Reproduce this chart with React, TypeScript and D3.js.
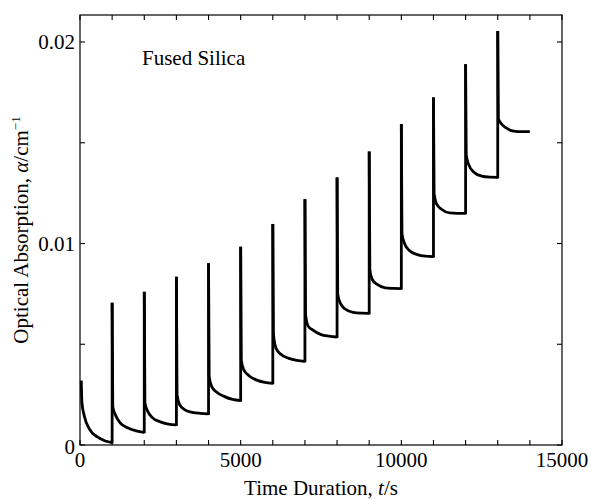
import React, { useEffect, useRef } from 'react';
import * as d3 from 'd3';

// onset of each heating pulse (s) and the value reached at its top
const onsetTimes = [40, 1000, 2000, 3000, 4000, 5000, 6000, 7000, 8000, 9000, 10000, 11000, 12000, 13000];
const endTime = 14000;
const peakAlpha = [0.0032, 0.00706, 0.0076, 0.00835, 0.00902, 0.00984, 0.01097, 0.0122, 0.01328, 0.01456, 0.01593, 0.01725, 0.0189, 0.02055];

// decay, at these offsets after each onset
const decayOffsets = [20, 100, 250, 500, 750];
const decayAlpha = [
  [0.0021, 0.0014, 0.0008, 0.0004, 0.0002],
  [0.0019, 0.0015, 0.0011, 0.00084, 0.0007],
  [0.0021, 0.0017, 0.00136, 0.00115, 0.00104],
  [0.0025, 0.002, 0.00176, 0.00162, 0.00157],
  [0.0034, 0.0029, 0.00263, 0.0024, 0.00226],
  [0.0042, 0.00372, 0.00345, 0.00322, 0.00311],
  [0.0055, 0.0048, 0.0045, 0.0043, 0.0042],
  [0.0065, 0.0059, 0.0057, 0.00548, 0.0054],
  [0.0075, 0.00705, 0.00675, 0.00658, 0.00654],
  [0.0087, 0.0082, 0.00797, 0.0078, 0.00777],
  [0.0105, 0.01, 0.00965, 0.00945, 0.00937],
  [0.0125, 0.01195, 0.0117, 0.01152, 0.0115],
  [0.0144, 0.0139, 0.01355, 0.01334, 0.01329],
  [0.0162, 0.01597, 0.01575, 0.01558, 0.01555],
];
// value at the end of each cycle (just before the next pulse)
const troughAlpha = [0.00012, 0.00063, 0.001, 0.00154, 0.0022, 0.00306, 0.00415, 0.00536, 0.00653, 0.00776, 0.00935, 0.0115, 0.01328, 0.01555];

const xTickValues = [0, 1000, 2000, 3000, 4000, 5000, 6000, 7000, 8000, 9000, 10000, 11000, 12000, 13000, 14000, 15000];
const xLabelValues = [0, 5000, 10000, 15000];
const yTickValues = [0, 0.005, 0.01, 0.015, 0.02];
const yLabelValues = [0, 0.01, 0.02];

const width = 589;
const height = 500;
const font = '"Liberation Serif", "Times New Roman", serif';
const fontSize = 21;

const App = () => {
  const svgRef = useRef<SVGSVGElement | null>(null);

  useEffect(() => {
    const svg = d3.select(svgRef.current);
    svg.selectAll('*').remove();

    const margin = { top: 15, right: 27, bottom: 55, left: 80 };
    const x = d3.scaleLinear().domain([0, 15000]).range([margin.left, width - margin.right]);
    const y = d3.scaleLinear().domain([0, 0.02134]).range([height - margin.bottom, margin.top]);
    const [x0, x1] = x.range();
    const [y0, y1] = y.range();

    // frame
    svg.append('rect')
      .attr('x', x0).attr('y', y1)
      .attr('width', x1 - x0).attr('height', y0 - y1)
      .attr('fill', 'none').attr('stroke', '#000').attr('stroke-width', 1.2);

    // inward ticks on all four sides
    const tickLen = 5;
    const ticks = svg.append('g').attr('stroke', '#000').attr('stroke-width', 1.1);
    xTickValues.forEach(t => {
      ticks.append('line').attr('x1', x(t)).attr('x2', x(t)).attr('y1', y0).attr('y2', y0 - tickLen);
      ticks.append('line').attr('x1', x(t)).attr('x2', x(t)).attr('y1', y1).attr('y2', y1 + tickLen);
    });
    yTickValues.forEach(v => {
      ticks.append('line').attr('x1', x0).attr('x2', x0 + tickLen).attr('y1', y(v)).attr('y2', y(v));
      ticks.append('line').attr('x1', x1).attr('x2', x1 - tickLen).attr('y1', y(v)).attr('y2', y(v));
    });

    // tick labels
    svg.append('g')
      .selectAll('text')
      .data(xLabelValues)
      .enter()
      .append('text')
      .attr('x', d => x(d))
      .attr('y', y0 + 22)
      .attr('text-anchor', 'middle')
      .attr('font-family', font)
      .attr('font-size', fontSize)
      .text(d => String(d));

    svg.append('g')
      .selectAll('text')
      .data(yLabelValues)
      .enter()
      .append('text')
      .attr('x', x0 - 5)
      .attr('y', d => y(d) + (d === 0 ? 9 : 7))
      .attr('text-anchor', 'end')
      .attr('font-family', font)
      .attr('font-size', fontSize)
      .text(d => (d === 0 ? '0' : d.toFixed(2)));

    // axis titles
    const xTitle = svg.append('text')
      .attr('x', (x0 + x1) / 2)
      .attr('y', 495)
      .attr('text-anchor', 'middle')
      .attr('font-family', font)
      .attr('font-size', fontSize);
    xTitle.append('tspan').text('Time Duration, ');
    xTitle.append('tspan').attr('font-style', 'italic').text('t');
    xTitle.append('tspan').text('/s');

    const yTitle = svg.append('text')
      .attr('transform', `translate(28, ${(y0 + y1) / 2}) rotate(-90)`)
      .attr('text-anchor', 'middle')
      .attr('font-family', font)
      .attr('font-size', fontSize);
    yTitle.append('tspan').text('Optical Absorption, ');
    yTitle.append('tspan').attr('font-style', 'italic').text('α');
    yTitle.append('tspan').text('/cm');
    yTitle.append('tspan').attr('dy', -8).attr('font-size', 13).text('−1');

    svg.append('text')
      .attr('x', 142)
      .attr('y', 65)
      .attr('font-family', font)
      .attr('font-size', fontSize)
      .text('Fused Silica');

    // absorption trace
    const line = d3.line<[number, number]>()
      .x(d => x(d[0]))
      .y(d => y(d[1]))
      .curve(d3.curveMonotoneX);

    const trace = svg.append('g')
      .attr('fill', 'none')
      .attr('stroke', '#000')
      .attr('stroke-width', 2.8);

    onsetTimes.forEach((t0, i) => {
      const tEnd = i < onsetTimes.length - 1 ? onsetTimes[i + 1] : endTime;
      const pts: [number, number][] = [[t0, peakAlpha[i]]];
      decayOffsets.forEach((off, j) => pts.push([t0 + off, decayAlpha[i][j]]));
      pts.push([tEnd, troughAlpha[i]]);
      trace.append('path').attr('d', line(pts));

      if (i > 0) {
        trace.append('line')
          .attr('x1', x(t0)).attr('x2', x(t0))
          .attr('y1', y(troughAlpha[i - 1]) + 1)
          .attr('y2', y(peakAlpha[i]));
      }
    });
  }, []);

  return (
    <svg
      ref={svgRef}
      width={width}
      height={height}
      style={{ position: 'absolute', left: 0, top: 0, background: '#fff' }}
    ></svg>
  );
};

export default App;
